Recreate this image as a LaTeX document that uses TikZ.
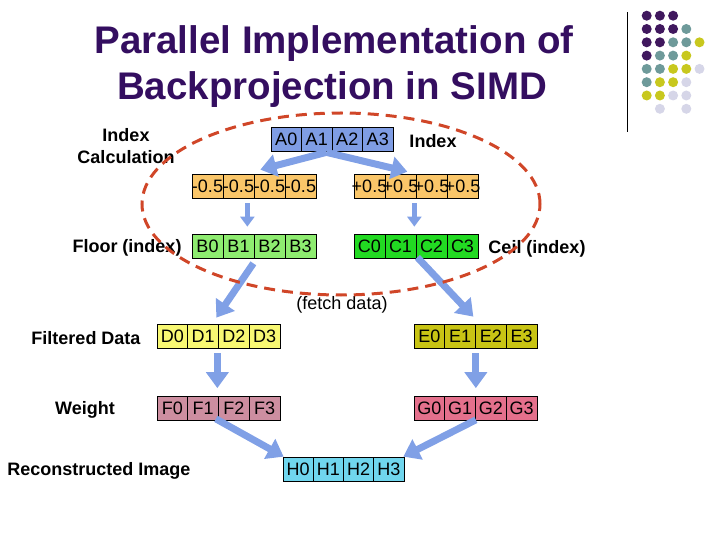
\documentclass[tikz,border=0pt]{standalone}
\usepackage{fontspec}
\setmainfont{Liberation Sans}
\usetikzlibrary{arrows.meta}
\definecolor{titlepurple}{RGB}{52,14,96}
\definecolor{cA}{RGB}{127,157,228}
\definecolor{cM}{RGB}{250,198,105}
\definecolor{cB}{RGB}{142,236,112}
\definecolor{cC}{RGB}{34,218,34}
\definecolor{cD}{RGB}{248,248,115}
\definecolor{cE}{RGB}{200,196,20}
\definecolor{cF}{RGB}{205,142,160}
\definecolor{cG}{RGB}{228,112,140}
\definecolor{cH}{RGB}{112,214,238}
\definecolor{arrowblue}{RGB}{128,160,230}
\definecolor{dashred}{RGB}{208,70,40}
\definecolor{dotP}{RGB}{64,24,94}
\definecolor{dotT}{RGB}{110,154,154}
\definecolor{dotY}{RGB}{200,200,30}
\definecolor{dotL}{RGB}{214,214,232}
\begin{document}
\begin{tikzpicture}[x=1pt,y=-1pt,
  cell/.style={draw=black, line width=0.7pt, minimum height=24pt, inner sep=0pt,
    font=\fontsize{18}{20}\selectfont},
  lbl/.style={font=\bfseries\fontsize{18}{22}\selectfont, align=center, inner sep=0pt},
  bigarrow/.style={draw=arrowblue, line width=7pt, -{Triangle[width=22pt,length=16pt]}},
  smallarrow/.style={draw=arrowblue, line width=5pt, -{Triangle[width=14pt,length=10pt]}},
  dashring/.style={draw=dashred, line width=3pt, dash pattern=on 11pt off 7pt}]
\useasboundingbox (0,0) rectangle (720,540);

% title
\node[anchor=base, text=titlepurple, font=\bfseries\fontsize{38.5}{46}\selectfont, inner sep=0pt] (t1) at (334,54) {Parallel Implementation of};
\node[anchor=base, text=titlepurple, font=\bfseries\fontsize{38.5}{46}\selectfont, inner sep=0pt] (t2) at (332,100) {Backprojection in SIMD};

% decoration
\draw[line width=1pt] (627,12.5) -- (627,132);
\foreach \c/\r/\col in {0/0/dotP,1/0/dotP,2/0/dotP,
  0/1/dotP,1/1/dotP,2/1/dotP,3/1/dotT,
  0/2/dotP,1/2/dotP,2/2/dotT,3/2/dotT,4/2/dotY,
  0/3/dotP,1/3/dotT,2/3/dotT,3/3/dotY,
  0/4/dotT,1/4/dotT,2/4/dotY,3/4/dotY,4/4/dotL,
  0/5/dotT,1/5/dotY,2/5/dotY,3/5/dotL,
  0/6/dotY,1/6/dotY,2/6/dotL,3/6/dotL,
  1/7/dotL,3/7/dotL}
  \fill[\col] ({646.7+13.2*\c},{15.7+13.3*\r}) circle[radius=5pt];

% cell rows
\foreach \i/\t in {0/A0,1/A1,2/A2,3/A3}
  \node[cell, fill=cA, minimum width=30.5pt] (A\i) at ({271+30.5*(\i+0.5)},139) {\makebox[0pt]{\t}};
\foreach \i in {0,1,2,3}
  \node[cell, fill=cM, minimum width=31pt] (M\i) at ({192+31*(\i+0.5)},186) {\makebox[0pt]{-0.5}};
\foreach \i in {0,1,2,3}
  \node[cell, fill=cM, minimum width=31pt] (P\i) at ({354+31*(\i+0.5)},186) {\makebox[0pt]{+0.5}};
\foreach \i/\t in {0/B0,1/B1,2/B2,3/B3}
  \node[cell, fill=cB, minimum width=31pt] (B\i) at ({192+31*(\i+0.5)},246) {\makebox[0pt]{\t}};
\foreach \i/\t in {0/C0,1/C1,2/C2,3/C3}
  \node[cell, fill=cC, minimum width=31pt] (C\i) at ({354+31*(\i+0.5)},246) {\makebox[0pt]{\t}};
\foreach \i/\t in {0/D0,1/D1,2/D2,3/D3}
  \node[cell, fill=cD, minimum width=30.75pt] (D\i) at ({157+30.75*(\i+0.5)},336) {\makebox[0pt]{\t}};
\foreach \i/\t in {0/E0,1/E1,2/E2,3/E3}
  \node[cell, fill=cE, minimum width=30.75pt] (E\i) at ({414+30.75*(\i+0.5)},336) {\makebox[0pt]{\t}};
\foreach \i/\t in {0/F0,1/F1,2/F2,3/F3}
  \node[cell, fill=cF, minimum width=30.75pt] (F\i) at ({157+30.75*(\i+0.5)},408.5) {\makebox[0pt]{\t}};
\foreach \i/\t in {0/G0,1/G1,2/G2,3/G3}
  \node[cell, fill=cG, minimum width=30.75pt] (G\i) at ({414+30.75*(\i+0.5)},408.5) {\makebox[0pt]{\t}};
\foreach \i/\t in {0/H0,1/H1,2/H2,3/H3}
  \node[cell, fill=cH, minimum width=30.25pt] (H\i) at ({283+30.25*(\i+0.5)},469) {\makebox[0pt]{\t}};

% labels
\node[lbl] (lCalc) at (126,146) {Index\\Calculation};
\node[lbl] (lIndex) at (433,141) {Index};
\node[lbl] (lFloor) at (127,248) {Floor (index)};
\node[lbl] (lCeil) at (537,249) {Ceil (index)};
\node[font=\fontsize{18}{22}\selectfont, inner sep=0pt] (lFetch) at (342,305) {(fetch data)};
\node[lbl] (lFilt) at (86,338) {Filtered Data};
\node[lbl] (lWeight) at (85,410) {Weight};
\node[lbl] (lRecon) at (99,471) {Reconstructed Image};

% arrows
\draw[bigarrow] ([xshift=-6pt,yshift=-1pt]A1.south east) -- ([xshift=6pt,yshift=4pt]M1.north east);
\draw[bigarrow] ([xshift=-6pt,yshift=-1pt]A1.south east) -- ([xshift=-9pt,yshift=2pt]P1.north east);
\draw[smallarrow] ([xshift=-7pt,yshift=-5pt]M1.south east) -- ([xshift=-7pt,yshift=7pt]B1.north east);
\draw[smallarrow] ([xshift=-2pt,yshift=-5pt]P1.south east) -- ([xshift=-2pt,yshift=7pt]C1.north east);
\draw[bigarrow] ([xshift=-1pt,yshift=-5pt]B1.south east) -- ([xshift=-2.5pt,yshift=6pt]D1.north east);
\draw[bigarrow] ([xshift=1pt,yshift=1pt]C1.south east) -- ([xshift=-2.5pt,yshift=7pt]E1.north east);
\draw[bigarrow] ([xshift=-1.5pt,yshift=-5pt]D1.south east) -- ([xshift=-1.5pt,yshift=8pt]F1.north east);
\draw[bigarrow] ([yshift=-5pt]E1.south east) -- ([yshift=8pt]G1.north east);
\draw[bigarrow] ([xshift=-3pt,yshift=2pt]F1.south east) -- ([xshift=1pt]H0.north west);
\draw[bigarrow] ([yshift=1pt]G1.south east) -- ([xshift=-1pt]H3.north east);

% dashed ring
\draw[dashring] (341,204) ellipse[x radius=199pt, y radius=91pt];
\end{tikzpicture}
\end{document}
